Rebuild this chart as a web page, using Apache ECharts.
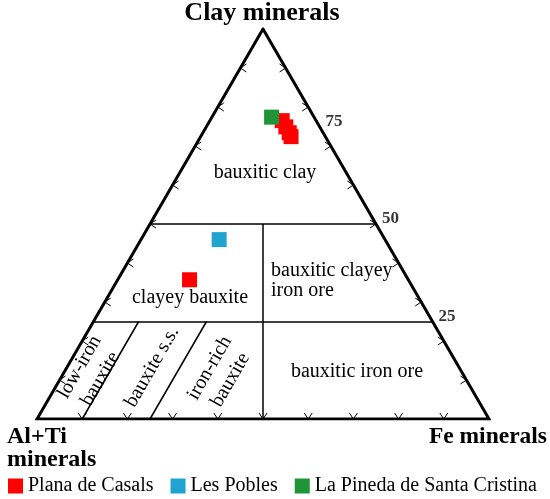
<!DOCTYPE html>
<html>
<head>
<meta charset="utf-8">
<script src="https://cdn.jsdelivr.net/npm/echarts@6/dist/echarts.min.js"></script>
<style>
  html, body { margin: 0; padding: 0; background: #fff; }
  #chart { width: 550px; height: 499px; }
</style>
</head>
<body>
<div id="chart"></div>
<script>
// ternary data, percent: clay minerals / Fe minerals / Al+Ti minerals
var planaClay = [76.5, 74.9, 73.4, 72.4, 35.7];
var planaFe   = [16.0, 17.6, 19.1, 20.0, 15.9];
var planaAl   = [7.5, 7.5, 7.5, 7.6, 48.4];

var poblesClay = [46.0];
var poblesFe   = [17.3];
var poblesAl   = [36.7];

var pinedaClay = [77.4];
var pinedaFe   = [13.2];
var pinedaAl   = [9.4];

var seriesNames = ['Plana de Casals', 'Les Pobles', 'La Pineda de Santa Cristina'];
var edgeSteps = [10, 20, 30, 40, 50, 60, 70, 80, 90];
var clayLabels = [25, 50, 75];

// field boundaries, [clay, fe, al] start -> end
var boundaries = [
  [[50, 50, 0], [50, 0, 50]],
  [[25, 75, 0], [25, 0, 75]],
  [[50, 25, 25], [0, 50, 50]],
  [[25, 10, 65], [0, 10, 90]],
  [[25, 25, 50], [0, 25, 75]]
];

var H = Math.sqrt(3) / 2;
var FONT = '"Liberation Serif", "Times New Roman", serif';

function toXY(clay, fe, al) {
  var s = clay + fe + al;
  return [(fe + clay / 2) / s, clay / s * H];
}

function points(clay, fe, al) {
  var out = [];
  for (var i = 0; i < clay.length; i++) {
    out.push(toXY(clay[i], fe[i], al[i]));
  }
  return out;
}

var ticks = [];
edgeSteps.forEach(function (v) {
  ticks.push(toXY(0, v, 100 - v).concat([0]));   // bottom, points down
  ticks.push(toXY(v, 0, 100 - v).concat([1]));   // left, points left
  ticks.push(toXY(v, 100 - v, 0).concat([2]));   // right, points right
});

var chart = echarts.init(document.getElementById('chart'));

var pointColors = ['#fe0000', '#1fa3cf', '#1f9538'];

function label(text, x, y, align, extra) {
  var el = {
    type: 'text', x: x, y: y,
    style: { text: text, font: '20px ' + FONT, fill: '#000', textAlign: align, textVerticalAlign: 'middle', lineHeight: 24 }
  };
  if (extra) el.rotation = extra;
  return el;
}

var option = {
  animation: false,
  grid: { left: 37, top: 29, width: 452, height: 390 },
  xAxis: { type: 'value', min: 0, max: 1, show: false },
  yAxis: { type: 'value', min: 0, max: H, show: false },
  legend: {
    left: 8,
    top: 476,
    itemWidth: 15,
    itemHeight: 15,
    itemGap: 17,
    padding: 0,
    icon: 'rect',
    data: seriesNames,
    textStyle: { fontFamily: FONT, fontSize: 20, color: '#000' }
  },
  graphic: [
    { type: 'text', x: 262, y: 13, style: { text: 'Clay minerals', font: 'bold 26px ' + FONT, fill: '#000', textAlign: 'center', textVerticalAlign: 'middle' } },
    { type: 'text', x: 7, y: 437, style: { text: 'Al+Ti', font: 'bold 24px ' + FONT, fill: '#000', textAlign: 'left', textVerticalAlign: 'middle' } },
    { type: 'text', x: 7, y: 460, style: { text: 'minerals', font: 'bold 24px ' + FONT, fill: '#000', textAlign: 'left', textVerticalAlign: 'middle' } },
    { type: 'text', x: 547, y: 437, style: { text: 'Fe minerals', font: 'bold 23.5px ' + FONT, fill: '#000', textAlign: 'right', textVerticalAlign: 'middle' } },

    label('bauxitic clay', 265, 173, 'center'),
    label('clayey bauxite', 190, 298, 'center'),
    label('bauxitic clayey', 271, 271, 'left'),
    label('iron ore', 271, 291, 'left'),
    label('bauxitic iron ore', 357, 372, 'center'),
    label('low-iron\nbauxite', 90, 373, 'center', Math.PI / 3),
    label('bauxite s.s.', 152, 367, 'center', Math.PI / 3),
    label('iron-rich\nbauxite', 220, 374, 'center', Math.PI / 3)
  ],
  series: [
    {
      type: 'line',
      silent: true,
      symbol: 'none',
      lineStyle: { color: '#000', width: 3, join: 'miter' },
      data: [toXY(0, 0, 100), toXY(0, 100, 0), toXY(100, 0, 0), toXY(0, 0, 100), toXY(0, 100, 0)],
      z: 3
    },
    {
      type: 'lines',
      coordinateSystem: 'cartesian2d',
      silent: true,
      lineStyle: { color: '#000', width: 1.5, opacity: 1 },
      data: boundaries.map(function (b) {
        return { coords: [toXY(b[0][0], b[0][1], b[0][2]), toXY(b[1][0], b[1][1], b[1][2])] };
      }),
      z: 2
    },
    {
      type: 'custom',
      silent: true,
      data: ticks,
      renderItem: function (params, api) {
        var p = api.coord([api.value(0), api.value(1)]);
        var d = api.value(2);
        var a, b;
        if (d === 0) { a = [p[0] - 4, p[1] - 6]; b = [p[0] + 4, p[1] - 6]; }
        else if (d === 1) { a = [p[0] + 6, p[1] - 4]; b = [p[0] + 6, p[1] + 4]; }
        else { a = [p[0] - 6, p[1] - 4]; b = [p[0] - 6, p[1] + 4]; }
        return {
          type: 'polyline',
          shape: { points: [a, p, b] },
          style: { stroke: '#000', fill: null, lineWidth: 1 }
        };
      },
      z: 4
    },
    {
      type: 'scatter',
      silent: true,
      symbolSize: 0,
      data: clayLabels.map(function (v) { return toXY(v, 100 - v, 0).concat([v]); }),
      label: {
        show: true,
        position: 'right',
        distance: 6,
        offset: [0, -5],
        formatter: function (p) { return p.value[2]; },
        fontFamily: FONT,
        fontWeight: 'bold',
        fontSize: 17,
        color: '#000'
      }
    },
    {
      name: seriesNames[0],
      type: 'scatter',
      symbol: 'rect',
      symbolSize: 15,
      itemStyle: { color: pointColors[0], opacity: 1 },
      data: points(planaClay, planaFe, planaAl),
      z: 5
    },
    {
      name: seriesNames[1],
      type: 'scatter',
      symbol: 'rect',
      symbolSize: 15,
      itemStyle: { color: pointColors[1], opacity: 1 },
      data: points(poblesClay, poblesFe, poblesAl),
      z: 5
    },
    {
      name: seriesNames[2],
      type: 'scatter',
      symbol: 'rect',
      symbolSize: 15,
      itemStyle: { color: pointColors[2], opacity: 1 },
      data: points(pinedaClay, pinedaFe, pinedaAl),
      z: 6
    }
  ]
};

chart.setOption(option);
</script>
</body>
</html>
